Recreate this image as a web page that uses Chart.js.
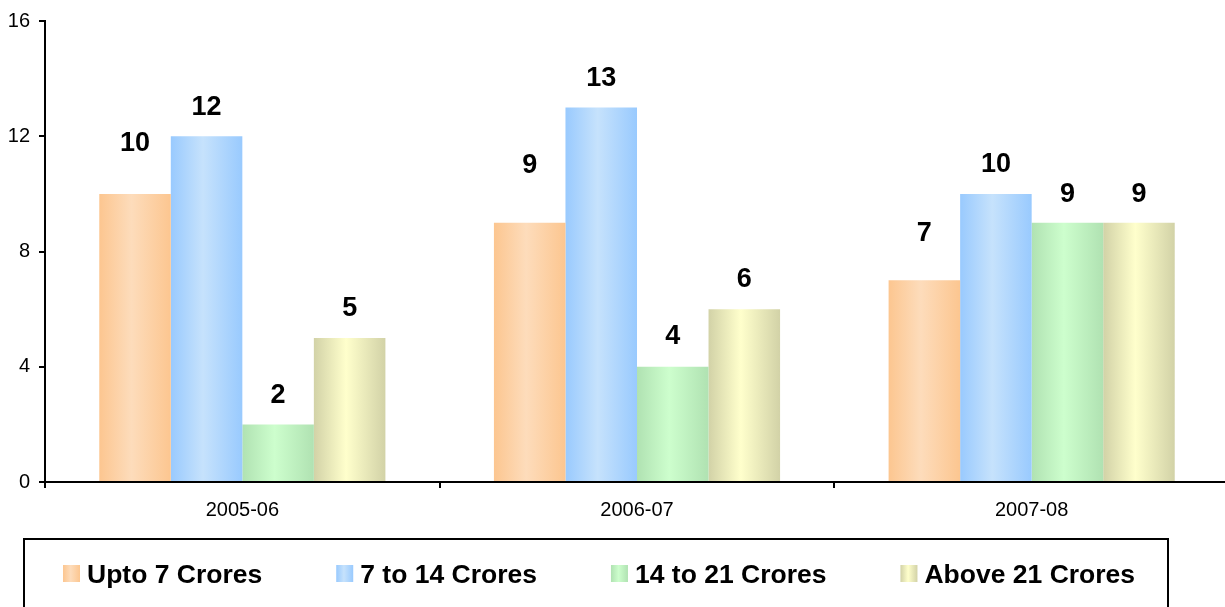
<!DOCTYPE html>
<html><head><meta charset="utf-8">
<script src="https://cdn.jsdelivr.net/npm/chart.js@4/dist/chart.umd.min.js"></script>
<style>html,body{margin:0;padding:0;overflow:hidden;background:#fff}#wrap{width:1229px;height:607px;position:relative}</style>
</head><body><div id="wrap"><canvas id="c"></canvas></div>
<script>
// ---- data ----
const categories = ['2005-06', '2006-07', '2007-08'];
const seriesNames = ['Upto 7 Crores', '7 to 14 Crores', '14 to 21 Crores', 'Above 21 Crores'];
const upto7 = [10, 9, 7];
const from7to14 = [12, 13, 10];
const from14to21 = [2, 4, 9];
const above21 = [5, 6, 9];
const yTicks = [0, 4, 8, 12, 16];

// ---- style ----
const FONT = '"Liberation Sans", Arial, Helvetica, sans-serif';
const CAT_PCT = 0.725;
const fills = [
  { edge: '#FCC690', mid: '#FDDCBB' },
  { edge: '#99CAFE', mid: '#C6E2FC' },
  { edge: '#B0E2B2', mid: '#CDFECD' },
  { edge: '#D2D2A7', mid: '#FFFFCC' }
];
const labelOffsets = [[53, 60, 49], [31, 31, 32], [31, 33, 31], [32, 32, 31]];

function makeGrad(ctx, left, width, f) {
  const g = ctx.createLinearGradient(left, 0, left + width, 0);
  g.addColorStop(0, f.edge);
  g.addColorStop(0.45, f.mid);
  g.addColorStop(1, f.edge);
  return g;
}

function barFill(c) {
  const f = fills[c.datasetIndex];
  const chart = c.chart;
  const xs = chart.scales && chart.scales.x;
  if (!xs || c.dataIndex === undefined || !isFinite(xs.width)) return f.edge;
  const cat = xs.width / categories.length;
  const group = cat * CAT_PCT;
  const bw = group / seriesNames.length;
  const left = xs.getPixelForValue(c.dataIndex) - group / 2 + c.datasetIndex * bw;
  return makeGrad(chart.ctx, left, bw, f);
}

const seriesValues = [upto7, from7to14, from14to21, above21];

const labelPlugin = {
  id: 'valueLabels',
  afterDatasetsDraw(chart) {
    const ctx = chart.ctx;
    ctx.save();
    ctx.font = 'bold 27px ' + FONT;
    ctx.fillStyle = '#000';
    ctx.textAlign = 'center';
    ctx.textBaseline = 'alphabetic';
    chart.data.datasets.forEach((ds, i) => {
      const meta = chart.getDatasetMeta(i);
      meta.data.forEach((el, j) => {
        ctx.fillText(String(ds.data[j]), el.x, el.y - labelOffsets[i][j] + 10);
      });
    });
    ctx.restore();
  }
};

const legendPlugin = {
  id: 'boxLegend',
  afterDraw(chart) {
    const ctx = chart.ctx;
    ctx.save();
    ctx.lineWidth = 2;
    ctx.strokeStyle = '#000';
    ctx.strokeRect(24, 539, 1144, 100);
    ctx.font = 'bold 26.5px ' + FONT;
    ctx.textBaseline = 'alphabetic';
    ctx.textAlign = 'left';
    let x = 63;
    const gap = 74;
    seriesNames.forEach((name, i) => {
      ctx.fillStyle = makeGrad(ctx, x, 17, fills[i]);
      ctx.fillRect(x, 565, 17, 17);
      ctx.fillStyle = '#000';
      ctx.fillText(name, x + 24, 583);
      x += 24 + ctx.measureText(name).width + gap;
    });
    ctx.restore();
  }
};

new Chart(document.getElementById('c'), {
  type: 'bar',
  data: {
    labels: categories,
    datasets: seriesNames.map((n, i) => ({
      label: n,
      data: seriesValues[i],
      backgroundColor: barFill,
      borderWidth: 0,
      categoryPercentage: CAT_PCT,
      barPercentage: 1
    }))
  },
  options: {
    responsive: true,
    maintainAspectRatio: false,
    animation: false,
    events: [],
    layout: { padding: { top: 19, left: 0, right: 0, bottom: 0 } },
    plugins: { legend: { display: false }, tooltip: { enabled: false } },
    scales: {
      x: {
        grid: { offset: true, drawOnChartArea: false, tickLength: 6, color: '#000', lineWidth: 2 },
        border: { color: '#000', width: 2 },
        ticks: { color: '#000', font: { family: FONT, size: 20 }, padding: 10 },
        afterFit(s) { s.height = 125; }
      },
      y: {
        min: 0, max: 16,
        afterBuildTicks(s) { s.ticks = yTicks.map(v => ({ value: v })); },
        grid: { drawOnChartArea: false, tickLength: 6, color: '#000', lineWidth: 2 },
        border: { color: '#000', width: 2 },
        ticks: { color: '#000', font: { family: FONT, size: 20 }, padding: 9 },
        afterFit(s) { s.width = 45; }
      }
    }
  },
  plugins: [labelPlugin, legendPlugin]
});
</script>
</body></html>
